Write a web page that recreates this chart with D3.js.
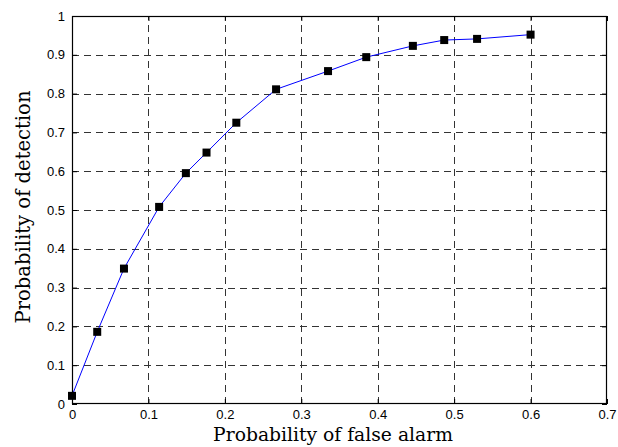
<!DOCTYPE html>
<html><head><meta charset="utf-8">
<script src="https://cdn.jsdelivr.net/npm/d3@7"></script>
<style>body{margin:0;background:#fff}svg{display:block}</style>
</head><body>
<script>
const pfa = [0, 0.033, 0.068, 0.114, 0.149, 0.176, 0.215, 0.267, 0.335, 0.385, 0.446, 0.487, 0.530, 0.600];
const pd  = [0.021, 0.186, 0.349, 0.508, 0.595, 0.648, 0.725, 0.811, 0.858, 0.894, 0.923, 0.938, 0.941, 0.952];
const xTicks = [0, 0.1, 0.2, 0.3, 0.4, 0.5, 0.6, 0.7];
const yTicks = [0, 0.1, 0.2, 0.3, 0.4, 0.5, 0.6, 0.7, 0.8, 0.9, 1];
const xLabel = "Probability of false alarm";
const yLabel = "Probability of detection";

const W = 618, H = 447;
const m = {left: 72, top: 16, right: 607, bottom: 404};
const svg = d3.select("body").append("svg").attr("width", W).attr("height", H);
const x = d3.scaleLinear().domain([0, 0.7]).range([m.left, m.right]);
const y = d3.scaleLinear().domain([0, 1]).range([m.bottom, m.top]);
const fmt = d => d === 0 ? "0" : (d === 1 ? "1" : d3.format(".1f")(d));
const tickFont = "'Liberation Sans', Arial, sans-serif";

// grid
const g = svg.append("g").attr("stroke", "#333").attr("stroke-width", 1).attr("stroke-dasharray", "7,5").attr("fill", "none");
g.selectAll(".vx").data(xTicks.slice(1, -1)).join("line")
  .attr("x1", d => Math.round(x(d)) + 0.5).attr("x2", d => Math.round(x(d)) + 0.5)
  .attr("y1", m.bottom).attr("y2", m.top);
g.selectAll(".hy").data(yTicks.slice(1, -1)).join("line")
  .attr("y1", d => Math.round(y(d)) + 0.5).attr("y2", d => Math.round(y(d)) + 0.5)
  .attr("x1", m.left).attr("x2", m.right);

// axes (MATLAB style ticks inward on all sides)
const tl = 5;
const axB = svg.append("g").attr("transform", `translate(0,${m.bottom})`)
  .call(d3.axisBottom(x).tickValues(xTicks).tickFormat(fmt).tickSize(-tl).tickPadding(6));
const axT = svg.append("g").attr("transform", `translate(0,${m.top})`)
  .call(d3.axisTop(x).tickValues(xTicks).tickFormat("").tickSize(-tl));
const axL = svg.append("g").attr("transform", `translate(${m.left},0)`)
  .call(d3.axisLeft(y).tickValues(yTicks).tickFormat(fmt).tickSize(-tl).tickPadding(7));
const axR = svg.append("g").attr("transform", `translate(${m.right},0)`)
  .call(d3.axisRight(y).tickValues(yTicks).tickFormat("").tickSize(-tl));
[axB, axT, axL, axR].forEach(a => {
  a.select(".domain").remove();
  a.selectAll("line").attr("stroke", "#000");
  a.selectAll("text").attr("font-family", tickFont).attr("font-size", 13).attr("fill", "#000");
});
svg.append("rect").attr("x", m.left + 0.5).attr("y", m.top + 0.5)
  .attr("width", m.right - m.left - 1).attr("height", m.bottom - m.top - 1)
  .attr("fill", "none").attr("stroke", "#000").attr("stroke-width", 1.2);

// line + markers
const pts = pfa.map((v, i) => [v, pd[i]]);
svg.append("path").datum(pts)
  .attr("d", d3.line().x(d => x(d[0])).y(d => y(d[1])))
  .attr("fill", "none").attr("stroke", "#0000ff").attr("stroke-width", 1);
const s = 8;
svg.selectAll(".mk").data(pts).join("rect")
  .attr("x", d => x(d[0]) - s / 2).attr("y", d => y(d[1]) - s / 2)
  .attr("width", s).attr("height", s).attr("fill", "#000");

// labels
const serif = "'DejaVu Serif', 'Liberation Serif', serif";
const xl = svg.append("text").attr("x", 333).attr("y", 441).attr("text-anchor", "middle")
  .attr("font-family", serif).attr("font-size", 18).text(xLabel);
const yl = svg.append("text").attr("transform", "translate(30,207) rotate(-90)").attr("text-anchor", "middle")
  .attr("font-family", serif).attr("font-size", 18).text(yLabel);
// size fonts so label widths match the reference
xl.attr("font-size", 18 * 240 / xl.node().getComputedTextLength());
yl.attr("font-size", 18 * 233 / yl.node().getComputedTextLength());
</script>
</body></html>
